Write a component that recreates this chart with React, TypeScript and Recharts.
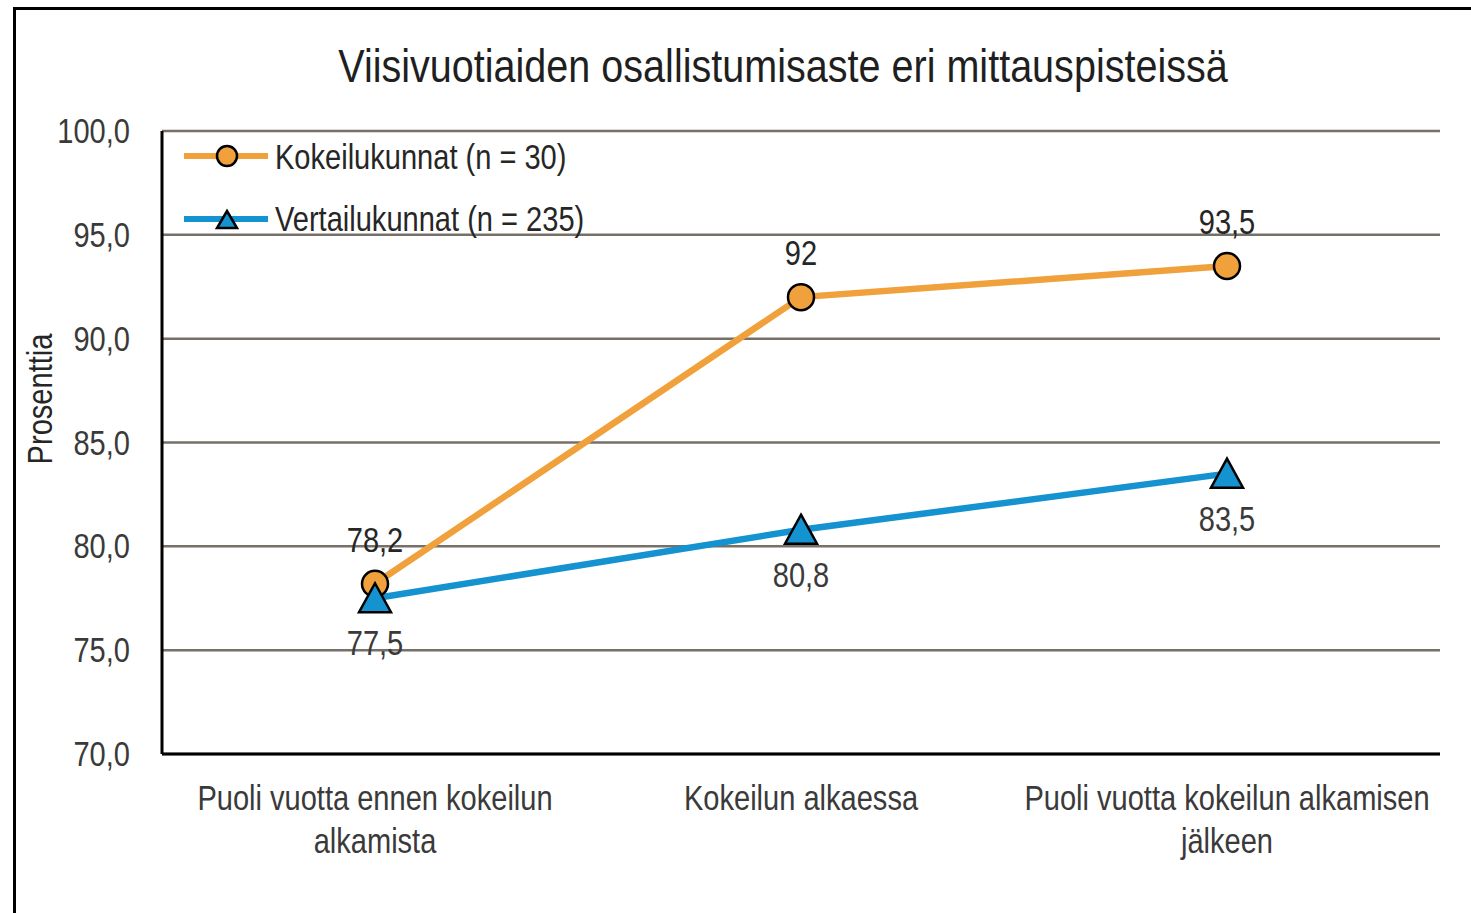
import React from "react";
import {
  LineChart,
  Line,
  XAxis,
  YAxis,
  CartesianGrid,
  Legend,
  LabelList,
} from "recharts";

const categories = [
  "Puoli vuotta ennen kokeilun\nalkamista",
  "Kokeilun alkaessa",
  "Puoli vuotta kokeilun alkamisen\njälkeen",
];
const kokeiluValues = [78.2, 92, 93.5];
const vertailuValues = [77.5, 80.8, 83.5];
const kokeiluLabels = ["78,2", "92", "93,5"];
const vertailuLabels = ["77,5", "80,8", "83,5"];
const yTicks = [70, 75, 80, 85, 90, 95, 100];
const seriesNames = ["Kokeilukunnat (n = 30)", "Vertailukunnat (n = 235)"];
const titleText = "Viisivuotiaiden osallistumisaste eri mittauspisteissä";
const yAxisTitle = "Prosenttia";

const ORANGE = "#F0A13B";
const BLUE = "#1592D0";
const FONT = "'Liberation Sans', Arial, sans-serif";
const SX = 0.83;

const data = categories.map((c, i) => ({
  cat: c,
  kokeilu: kokeiluValues[i],
  vertailu: vertailuValues[i],
  kLabel: kokeiluLabels[i],
  vLabel: vertailuLabels[i],
}));

const SText = ({ x, y, anchor = "middle", size = 35, fill = "#333", rotate = 0, sx = SX, children }: any) => (
  <g transform={`translate(${x},${y})${rotate ? ` rotate(${rotate})` : ""} scale(${sx},1)`}>
    <text x={0} y={0} textAnchor={anchor} fontSize={size} fontFamily={FONT} fill={fill}>
      {children}
    </text>
  </g>
);

const YTick = (props: any) => {
  const { x, y, payload } = props;
  const label = Number(payload.value).toFixed(1).replace(".", ",");
  return <SText x={x} y={y + 12} anchor="end" fill="#3a3a3a">{label}</SText>;
};

const XTick = (props: any) => {
  const { x, y, payload } = props;
  const lines = String(payload.value).split("\n");
  return (
    <g>
      {lines.map((l: string, i: number) => (
        <SText key={i} x={x} y={y + 48 + i * 43} fill="#3a3a3a">{l}</SText>
      ))}
    </g>
  );
};

const circleDot = (props: any) => {
  const { cx, cy, index } = props;
  return <circle key={`c${index}`} cx={cx} cy={cy} r={13} fill={ORANGE} stroke="#000" strokeWidth={2.5} />;
};

const triDot = (props: any) => {
  const { cx, cy, index } = props;
  return (
    <polygon
      key={`t${index}`}
      points={`${cx},${cy - 15} ${cx + 16},${cy + 14} ${cx - 16},${cy + 14}`}
      fill={BLUE}
      stroke="#000"
      strokeWidth={2.5}
      strokeLinejoin="miter"
    />
  );
};

const topLabel = (props: any) => {
  const { x, y, value, index } = props;
  return <SText key={`tl${index}`} x={x} y={y - 32} fill="#262626">{value}</SText>;
};

const bottomLabel = (props: any) => {
  const { x, y, value, index } = props;
  return <SText key={`bl${index}`} x={x} y={y + 57} fill="#3a3a3a">{value}</SText>;
};

const renderLegend = () => (
  <svg width={500} height={110} style={{ overflow: "visible" }}>
    <line x1={4} y1={21} x2={88} y2={21} stroke={ORANGE} strokeWidth={6} />
    <circle cx={47} cy={21} r={10} fill={ORANGE} stroke="#000" strokeWidth={2.5} />
    <SText x={95} y={34} anchor="start" fill="#262626">{seriesNames[0]}</SText>
    <line x1={4} y1={84} x2={88} y2={84} stroke={BLUE} strokeWidth={6} />
    <polygon points={`47,76 57,93 37,93`} fill={BLUE} stroke="#000" strokeWidth={2.5} />
    <SText x={95} y={96} anchor="start" fill="#262626">{seriesNames[1]}</SText>
  </svg>
);

export default function App() {
  return (
    <div
      style={{
        position: "absolute",
        left: 0,
        top: 0,
        width: 1471,
        height: 913,
        overflow: "hidden",
        background: "#fff",
      }}
    >
      <div
        style={{
          position: "absolute",
          left: 13,
          top: 7,
          width: 1500,
          height: 1000,
          borderLeft: "3px solid #000",
          borderTop: "3px solid #000",
        }}
      />
      <svg
        width={1471}
        height={913}
        style={{ position: "absolute", left: 0, top: 0, pointerEvents: "none" }}
      >
        <SText x={783} y={82} size={46} sx={0.86} fill="#1f1f1f">{titleText}</SText>
        <SText x={52} y={399} rotate={-90} fill="#262626">{yAxisTitle}</SText>
      </svg>
      <div style={{ position: "absolute", left: 0, top: 0 }}>
        <LineChart
          width={1471}
          height={913}
          data={data}
          margin={{ top: 131, right: 31, bottom: 0, left: 62 }}
        >
          <CartesianGrid vertical={false} stroke="#767069" strokeWidth={2.5} />
          <XAxis
            dataKey="cat"
            scale="band"
            tickLine={false}
            axisLine={{ stroke: "#000", strokeWidth: 3 }}
            tick={<XTick />}
            interval={0}
            height={159}
          />
          <XAxis
            xAxisId="top"
            dataKey="cat"
            scale="band"
            orientation="top"
            height={0}
            tick={false}
            tickLine={false}
            axisLine={{ stroke: "#000", strokeWidth: 3 }}
          />
          <YAxis
            domain={[70, 100]}
            ticks={yTicks}
            width={100}
            tickLine={false}
            tickMargin={26}
            axisLine={{ stroke: "#000", strokeWidth: 3 }}
            tick={<YTick />}
            interval={0}
          />
          <YAxis
            yAxisId="right"
            orientation="right"
            width={0}
            tick={false}
            tickLine={false}
            axisLine={{ stroke: "#000", strokeWidth: 3 }}
          />
          <Legend
            layout="vertical"
            align="center"
            verticalAlign="middle"
            content={renderLegend}
            wrapperStyle={{ left: 180, top: 135, width: 500, height: 110 }}
          />
          <Line
            type="linear"
            dataKey="kokeilu"
            name={seriesNames[0]}
            stroke={ORANGE}
            strokeWidth={6.5}
            dot={circleDot}
            activeDot={false}
            isAnimationActive={false}
          >
            <LabelList dataKey="kLabel" content={topLabel} />
          </Line>
          <Line
            type="linear"
            dataKey="vertailu"
            name={seriesNames[1]}
            stroke={BLUE}
            strokeWidth={6.5}
            dot={triDot}
            activeDot={false}
            isAnimationActive={false}
          >
            <LabelList dataKey="vLabel" content={bottomLabel} />
          </Line>
        </LineChart>
      </div>
    </div>
  );
}
